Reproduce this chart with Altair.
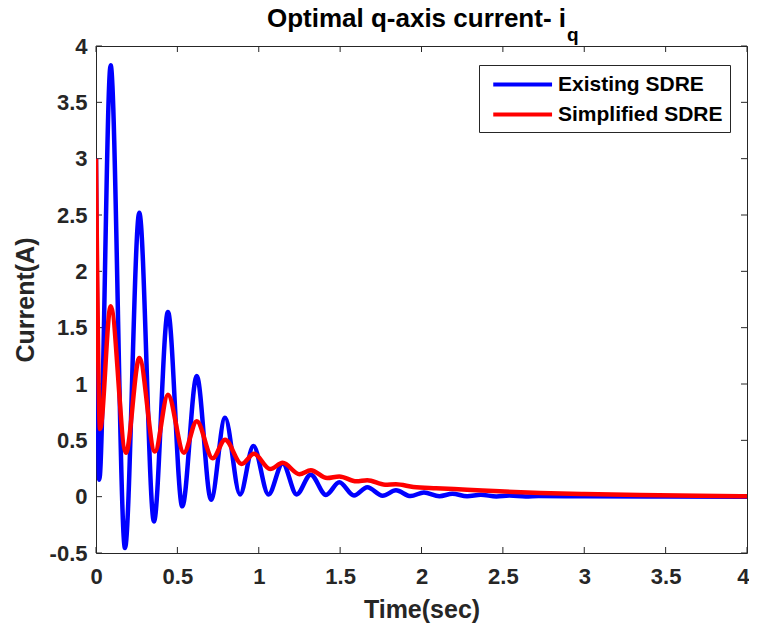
import altair as alt
import pandas as pd

# ---- data ----
existing_t = [0, 0.02, 0.09, 0.178, 0.266, 0.356, 0.442, 0.53, 0.619, 0.707, 0.793,
              0.885, 0.967, 1.06, 1.147, 1.233, 1.319, 1.413, 1.495, 1.585, 1.667,
              1.761, 1.843, 1.933, 2.015, 2.11, 2.19, 2.28, 2.365, 2.46, 2.54, 2.64,
              2.72, 3.0, 3.5, 4.0]
existing_v = [3.0, 0.15, 3.83, -0.455, 2.52, -0.22, 1.64, -0.086, 1.07, -0.027, 0.70,
              0.02, 0.45, 0.02, 0.295, 0.02, 0.195, 0.015, 0.127, 0.01, 0.083,
              0.008, 0.056, 0.005, 0.038, 0.004, 0.026, 0.003, 0.017, 0.002, 0.01, 0.002,
              0.006, 0.003, 0.001, 0.0]

simplified_t = [0, 0.025, 0.09, 0.184, 0.266, 0.362, 0.442, 0.54, 0.619, 0.717, 0.793,
                0.895, 0.971, 1.07, 1.147, 1.25, 1.32, 1.42, 1.495, 1.6, 1.667, 1.776,
                1.843, 1.95, 2.09, 2.28, 2.48, 2.73, 3.0, 3.34, 3.7, 4.0]
simplified_v = [3.0, 0.6, 1.69, 0.39, 1.23, 0.40, 0.905, 0.39, 0.67, 0.34, 0.506,
                0.29, 0.38, 0.245, 0.30, 0.20, 0.235, 0.165, 0.18, 0.136, 0.146, 0.106,
                0.11, 0.086, 0.074, 0.062, 0.047, 0.033, 0.024, 0.015, 0.008, 0.004]

series_names = ["Existing SDRE", "Simplified SDRE"]
series_colors = ["#0000FF", "#FF0000"]

x_ticks = [0, 0.5, 1, 1.5, 2, 2.5, 3, 3.5, 4]
y_ticks = [-0.5, 0, 0.5, 1, 1.5, 2, 2.5, 3, 3.5, 4]

title_main = "Optimal q-axis current- i"
title_sub = "q"

W, H = 651, 507
FONT = "Liberation Sans"
INK = "#262626"

df = pd.concat([
    pd.DataFrame({"t": existing_t, "v": existing_v, "series": series_names[0]}),
    pd.DataFrame({"t": simplified_t, "v": simplified_v, "series": series_names[1]}),
])

xscale = alt.Scale(domain=[0, 4], nice=False, zero=False)
yscale = alt.Scale(domain=[-0.5, 4], nice=False, zero=False)

last_x = "datum.value == %s" % x_ticks[-1]
xaxis = alt.Axis(values=x_ticks, grid=False, domain=False, ticks=False, tickSize=0,
                 labelExpr="'' + datum.value",
                 labelAlign={"condition": {"test": last_x, "value": "right"}, "value": "center"},
                 labelOffset={"condition": {"test": last_x, "value": 2}, "value": 0},
                 labelFont=FONT, labelFontWeight="bold", labelFontSize=22,
                 labelColor=INK, labelPadding=13, labelFlush=False,
                 titleFont=FONT, titleFontWeight="bold", titleFontSize=25,
                 titleColor=INK, titlePadding=10)
yaxis = alt.Axis(values=y_ticks, grid=False, domain=False, ticks=False, tickSize=0,
                 labelExpr="'' + datum.value",
                 labelFont=FONT, labelFontWeight="bold", labelFontSize=22,
                 labelColor=INK, labelPadding=9, labelFlush=False,
                 titleFont=FONT, titleFontWeight="bold", titleFontSize=25,
                 titleColor=INK, titlePadding=11)

lines = alt.Chart(df).mark_line(strokeWidth=4.5, interpolate="monotone", clip=True).encode(
    x=alt.X("t:Q", scale=xscale, title="Time(sec)", axis=xaxis),
    y=alt.Y("v:Q", scale=yscale, title="Current(A)", axis=yaxis),
    color=alt.Color("series:N",
                    scale=alt.Scale(domain=series_names, range=series_colors),
                    legend=alt.Legend(title=None, orient="none", legendX=383, legendY=19,
                                      strokeColor=INK, fillColor="white", padding=7,
                                      labelFont=FONT, labelFontWeight="bold", labelFontSize=21,
                                      labelColor="black", labelLimit=400,
                                      symbolType="M-0.5,0L5.1,0",
                                      symbolStrokeWidth=4, symbolSize=441, rowPadding=7,
                                      labelOffset=47)),
)

xt = pd.DataFrame({"xt": x_ticks})
yt = pd.DataFrame({"yt": y_ticks})

xtick_bottom = alt.Chart(xt).mark_rule(color=INK, strokeWidth=1).encode(
    x=alt.X("xt:Q", scale=xscale, axis=xaxis, title="Time(sec)"),
    y=alt.value(H), y2=alt.value(H - 6))
xtick_top = alt.Chart(xt).mark_rule(color=INK, strokeWidth=1).encode(
    x=alt.X("xt:Q", scale=xscale, axis=xaxis, title="Time(sec)"),
    y=alt.value(0), y2=alt.value(6))
ytick_left = alt.Chart(yt).mark_rule(color=INK, strokeWidth=1).encode(
    y=alt.Y("yt:Q", scale=yscale, axis=yaxis, title="Current(A)"),
    x=alt.value(0), x2=alt.value(6))
ytick_right = alt.Chart(yt).mark_rule(color=INK, strokeWidth=1).encode(
    y=alt.Y("yt:Q", scale=yscale, axis=yaxis, title="Current(A)"),
    x=alt.value(W), x2=alt.value(W - 6))

tdf = pd.DataFrame({"main": [title_main], "sub": [title_sub]})
title_text = alt.Chart(tdf).mark_text(font=FONT, fontWeight="bold", fontSize=26,
                                      align="right", baseline="alphabetic", color="black").encode(
    text="main:N", x=alt.value(470), y=alt.value(-19))
sub_text = alt.Chart(tdf).mark_text(font=FONT, fontWeight="bold", fontSize=19,
                                    align="left", baseline="alphabetic", color="black").encode(
    text="sub:N", x=alt.value(471), y=alt.value(-5))

chart = alt.layer(xtick_bottom, xtick_top, ytick_left, ytick_right, lines, title_text, sub_text).properties(
    width=W, height=H,
    padding={"left": 88, "top": 38, "right": 2, "bottom": 70},
    autosize=alt.AutoSizeParams(type="none"),
    background="white",
).configure_view(stroke=INK, strokeWidth=1)

chart.save("out.html", embed_options={"renderer": "svg", "actions": False})
